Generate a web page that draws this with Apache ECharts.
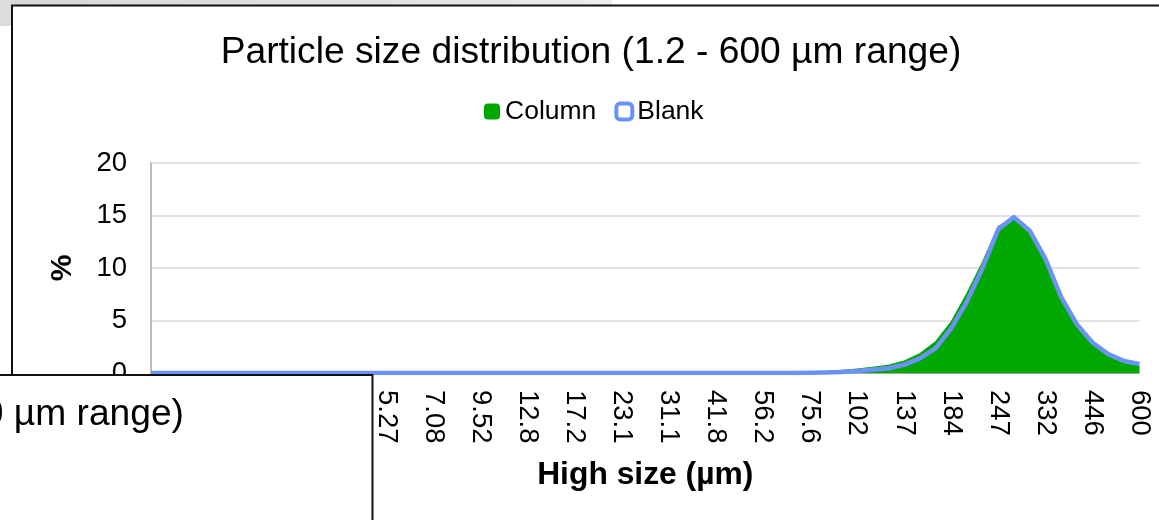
<!DOCTYPE html>
<html>
<head>
<meta charset="utf-8">
<title>Particle size distribution</title>
<script src="https://cdn.jsdelivr.net/npm/echarts@6/dist/echarts.min.js"></script>
<style>
  html, body { margin: 0; padding: 0; background: #fff; }
  #chart { width: 1159px; height: 520px; }
</style>
</head>
<body>
<div id="chart"></div>
<script>
// High size of each size class (µm), log-spaced from 1.2 to 600
const sizes = [
  '1.2', '1.32', '1.46', '1.61', '1.78', '1.97', '2.17', '2.39', '2.64', '2.92',
  '3.22', '3.55', '3.92', '4.33', '4.78', '5.27', '5.82', '6.42', '7.08', '7.81',
  '8.62', '9.52', '10.5', '11.6', '12.8', '14.1', '15.6', '17.2', '19', '21',
  '23.1', '25.5', '28.2', '31.1', '34.3', '37.9', '41.8', '46.1', '50.9', '56.2',
  '62', '68.5', '75.6', '83.4', '92', '102', '112', '124', '137', '151',
  '166', '184', '203', '224', '247', '272', '301', '332', '366', '404',
  '446', '492', '543', '600'
];

// Volume % per size class
const columnPct = [
  0, 0, 0, 0, 0, 0, 0, 0, 0, 0,
  0, 0, 0, 0, 0, 0, 0, 0, 0, 0,
  0, 0, 0, 0, 0, 0, 0, 0, 0, 0,
  0, 0, 0, 0, 0, 0, 0, 0, 0, 0,
  0, 0.03, 0.08, 0.15, 0.25, 0.38, 0.55, 0.75, 1.15, 1.85,
  3.0, 4.9, 7.6, 10.6, 14.0, 14.6, 13.3, 10.7, 7.1, 4.5,
  2.8, 1.7, 1.05, 0.7
];

const blankPct = [
  0, 0, 0, 0, 0, 0, 0, 0, 0, 0,
  0, 0, 0, 0, 0, 0, 0, 0, 0, 0,
  0, 0, 0, 0, 0, 0, 0, 0, 0, 0,
  0, 0, 0, 0, 0, 0, 0, 0, 0, 0,
  0, 0, 0.02, 0.05, 0.1, 0.18, 0.3, 0.45, 0.78, 1.4,
  2.35, 4.25, 6.8, 10.0, 13.7, 14.85, 13.55, 10.9, 7.25, 4.65,
  2.9, 1.8, 1.15, 0.85
];

const yTicks = { min: 0, max: 20, step: 5 };

const FONT = '"Liberation Sans", Arial, sans-serif';
const GREEN = '#00a800';
const BLUE = '#6b93f7';

const chart = echarts.init(document.getElementById('chart'), null, { renderer: 'canvas' });

chart.setOption({
  backgroundColor: '#ffffff',
  animation: false,
  textStyle: { fontFamily: FONT, color: '#000' },
  title: {
    text: 'Particle size distribution (1.2 - 600 µm range)',
    left: 586,
    top: 29,
    textAlign: 'center',
    textStyle: { fontFamily: FONT, fontSize: 37.2, fontWeight: 'normal', color: '#000' }
  },
  legend: {
    left: 479,
    top: 93,
    itemWidth: 16,
    itemHeight: 16,
    itemGap: 18,
    textStyle: { fontFamily: FONT, fontSize: 26.5, color: '#000', padding: [0, 0, 0, 0] },
    data: [
      { name: 'Column', icon: 'roundRect', itemStyle: { color: GREEN, borderWidth: 0 } },
      { name: 'Blank', icon: 'roundRect', itemStyle: { color: '#ffffff', borderColor: BLUE, borderWidth: 4 } }
    ]
  },
  grid: {
    left: 151,
    right: 19.5,
    top: 163,
    bottom: 147,
    containLabel: false
  },
  xAxis: {
    type: 'category',
    data: sizes,
    boundaryGap: false,
    name: 'High size (µm)',
    nameLocation: 'middle',
    nameGap: 86,
    nameTextStyle: { fontFamily: FONT, fontSize: 31.8, fontWeight: 'bold', color: '#000' },
    axisLine: { show: true, lineStyle: { color: '#a6a6a6', width: 1 } },
    axisTick: { show: false },
    axisLabel: {
      interval: 2,
      rotate: -90,
      margin: 17,
      fontFamily: FONT,
      fontSize: 27.5,
      color: '#000'
    },
    splitLine: { show: false }
  },
  yAxis: {
    type: 'value',
    min: yTicks.min,
    max: yTicks.max,
    interval: yTicks.step,
    name: '%',
    nameLocation: 'middle',
    nameRotate: 90,
    nameGap: 73,
    nameTextStyle: { fontFamily: FONT, fontSize: 30, fontWeight: 'bold', color: '#000' },
    axisLine: { show: true, lineStyle: { color: '#a6a6a6', width: 1.5 } },
    axisTick: { show: false },
    axisLabel: { margin: 24, fontFamily: FONT, fontSize: 27.5, color: '#000' },
    splitLine: { show: true, lineStyle: { color: '#d9d9d9', width: 1.5 } }
  },
  series: [
    {
      name: 'Column',
      type: 'line',
      data: columnPct,
      showSymbol: false,
      symbol: 'none',
      lineStyle: { color: GREEN, width: 1 },
      itemStyle: { color: GREEN },
      areaStyle: { color: GREEN, opacity: 1 },
      z: 2
    },
    {
      name: 'Blank',
      type: 'line',
      data: blankPct,
      showSymbol: false,
      symbol: 'none',
      lineStyle: { color: BLUE, width: 4.5, join: 'round' },
      itemStyle: { color: BLUE },
      z: 3
    }
  ],
  graphic: [
    // soft grey strip above the chart frame
    {
      type: 'rect',
      z: -10,
      shape: { x: 0, y: 0, width: 612, height: 5 },
      style: {
        fill: new echarts.graphic.LinearGradient(0, 0, 1, 0, [
          { offset: 0, color: '#d6d8d8' },
          { offset: 0.8, color: '#e4e6e6' },
          { offset: 1, color: '#eceeee' }
        ])
      }
    },
    {
      type: 'rect',
      z: -10,
      shape: { x: 0, y: 0, width: 11, height: 26 },
      style: { fill: '#dcdede' }
    },
    // chart frame (top and left edges)
    {
      type: 'polyline',
      z: 50,
      shape: { points: [[12, 520], [12, 5.5], [1159, 5.5]] },
      style: { stroke: '#111', lineWidth: 2, fill: null }
    },
    // overlapping window in the lower-left corner
    {
      type: 'rect',
      z: 100,
      shape: { x: -3, y: 375, width: 375.5, height: 150 },
      style: { fill: '#ffffff', stroke: '#111', lineWidth: 2 }
    },
    {
      type: 'text',
      z: 101,
      x: 184,
      y: 396,
      style: {
        text: 'Particle size distribution (1.2 - 600 µm range)',
        align: 'right',
        verticalAlign: 'top',
        font: 'normal 37.2px "Liberation Sans", Arial, sans-serif',
        fill: '#000'
      }
    }
  ]
});
</script>
</body>
</html>
